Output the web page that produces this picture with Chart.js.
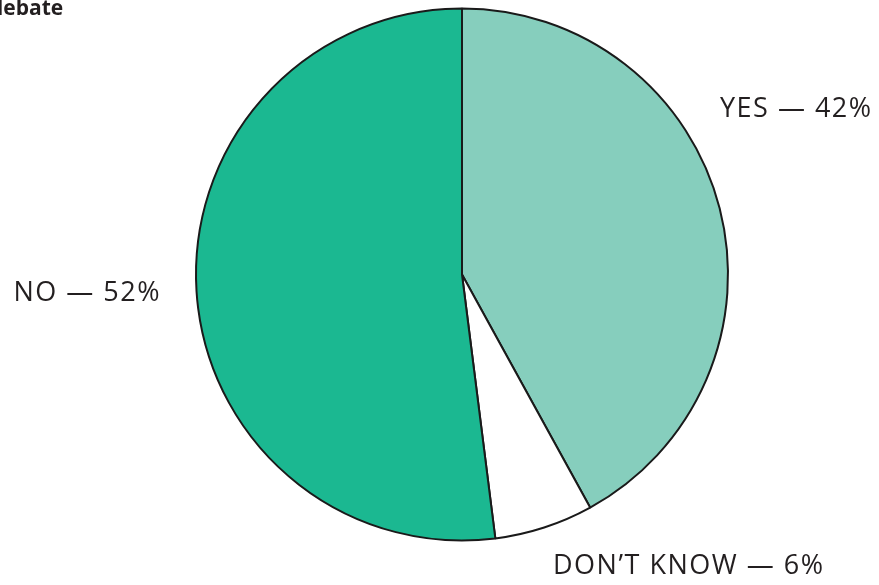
<!DOCTYPE html>
<html>
<head>
<meta charset="utf-8">
<script src="https://cdn.jsdelivr.net/npm/chart.js@4"></script>
<style>
  html, body { margin: 0; padding: 0; background: #fff; }
  #wrap { width: 879px; height: 585px; position: relative; }
</style>
</head>
<body>
<div id="wrap"><canvas id="graph"></canvas></div>
<script>
var labels = ["YES", "DON\u2019T KNOW", "NO"];
var votes = [42, 6, 52];
var colors = ["#86cebd", "#ffffff", "#1bb891"];
var titleText = "debate";

// label anchors, relative to pie centre (px)
var labelPos = [
  { dx: 258, dy: -165, align: "left" },
  { dx: 91, dy: 292, align: "left" },
  { dx: -301, dy: 19, align: "right" }
];

var labelPlugin = {
  id: 'labels',
  afterDraw: function (chart) {
    var ctx = chart.ctx;
    var arc = chart.getDatasetMeta(0).data[0];
    ctx.save();
    ctx.fillStyle = "#231f20";
    ctx.font = "27px 'Open Sans'";
    ctx.letterSpacing = "1.5px";
    ctx.textBaseline = "middle";
    labels.forEach(function (l, i) {
      var p = labelPos[i];
      ctx.textAlign = p.align;
      ctx.fillText(l + " \u2014 " + votes[i] + "%", arc.x + p.dx, arc.y + p.dy);
    });
    ctx.letterSpacing = "0px";
    ctx.font = "bold 21px 'Open Sans'";
    ctx.textAlign = "left";
    ctx.textBaseline = "alphabetic";
    ctx.fillText(titleText, -10, 15);
    ctx.restore();
  }
};

var ctx = document.getElementById('graph').getContext('2d');
var chart = new Chart(ctx, {
  type: 'pie',
  data: {
    labels: labels,
    datasets: [{
      data: votes,
      backgroundColor: colors,
      borderColor: "#1a1a1a",
      borderWidth: 2
    }]
  },
  options: {
    responsive: true,
    maintainAspectRatio: false,
    animation: false,
    layout: { padding: { top: 7, bottom: 43, left: 195, right: 150 } },
    plugins: {
      legend: { display: false },
      tooltip: { enabled: false }
    }
  },
  plugins: [labelPlugin]
});
</script>
</body>
</html>
